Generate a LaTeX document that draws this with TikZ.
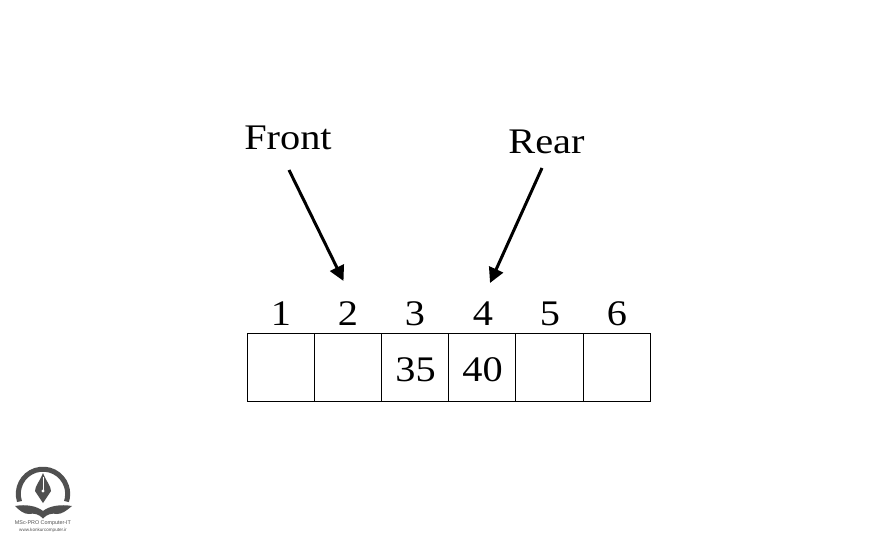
\documentclass[tikz,border=0pt]{standalone}
\usepackage{fontspec}
\setmainfont[FakeStretch=1.12]{Liberation Serif}
\newfontfamily\logofont{Liberation Sans}
\usetikzlibrary{arrows.meta}
\definecolor{logogray}{RGB}{80,80,80}
\tikzset{
  x=1pt,y=-1pt,
  cell/.style={draw=black,line width=1pt,minimum width=67.2pt,minimum height=68pt,inner sep=0pt,outer sep=0pt},
  cellnum/.style={inner sep=0pt,font=\fontsize{36}{36}\selectfont},
  idx/.style={inner sep=0pt,font=\fontsize{36}{36}\selectfont},
  lbl/.style={inner sep=0pt,font=\fontsize{36}{36}\selectfont},
  ptr/.style={line width=3pt,-{Triangle[length=15pt,width=15pt]}},
  logotext/.style={inner sep=0pt,text=logogray}
}
\begin{document}
\begin{tikzpicture}
\useasboundingbox (0,0) rectangle (880,543);
\node[cell] (c1) at (281,367.5) {};
\node[cell] (c2) at (348,367.5) {};
\node[cell] (c3) at (415,367.5) {};
\node[cell] (c4) at (482,367.5) {};
\node[cell] (c5) at (549.5,367.5) {};
\node[cell] (c6) at (617,367.5) {};
\node[cellnum] (v3) at (415.5,369.5) {35};
\node[cellnum] (v4) at (482.5,369.5) {40};
\node[idx] (n1) at (281,314) {1};
\node[idx] (n2) at (348,314) {2};
\node[idx] (n3) at (415,314) {3};
\node[idx] (n4) at (483,314) {4};
\node[idx] (n5) at (550,314) {5};
\node[idx] (n6) at (617,314) {6};
\node[lbl] (front) at (288,138) {Front};
\node[lbl] (rear) at (546.5,142) {Rear};
\coordinate (fs) at (289,170);
\coordinate (fe) at (343.5,281);
\coordinate (rs) at (542,168);
\coordinate (re) at (490,283);
\draw[ptr] (fs) -- (fe);
\draw[ptr] (rs) -- (re);
% logo
\draw[logogray,line width=5pt] (19.5,501.5) arc[start angle=162,end angle=378,radius=24.7];
\fill[logogray] (43,473) .. controls (46,481) and (51,486) .. (51,491) -- (43,503) -- (35,491) .. controls (35,486) and (40,481) .. (43,473) -- cycle;
\fill[white] (42.6,477) rectangle (43.4,490);
\fill[white] (43,491) circle (1.6);
\fill[logogray] (15,506) .. controls (26,504) and (37,506) .. (43,511) .. controls (49,506) and (60,504) .. (72,506) .. controls (66,511) and (62,514) .. (57,514) .. controls (52,513) and (47,514) .. (43,518.5) .. controls (39,514) and (34,513) .. (29,514) .. controls (24,514) and (20,511) .. (15,506) -- cycle;
\node[logotext,font=\logofont\fontsize{5.4}{6}\selectfont] (lt1) at (43,523.5) {MSc-PRO Computer-IT};
\node[logotext,font=\logofont\fontsize{4.6}{6}\selectfont] (lt2) at (43,530.5) {www.konkurcomputer.ir};
\end{tikzpicture}
\end{document}
